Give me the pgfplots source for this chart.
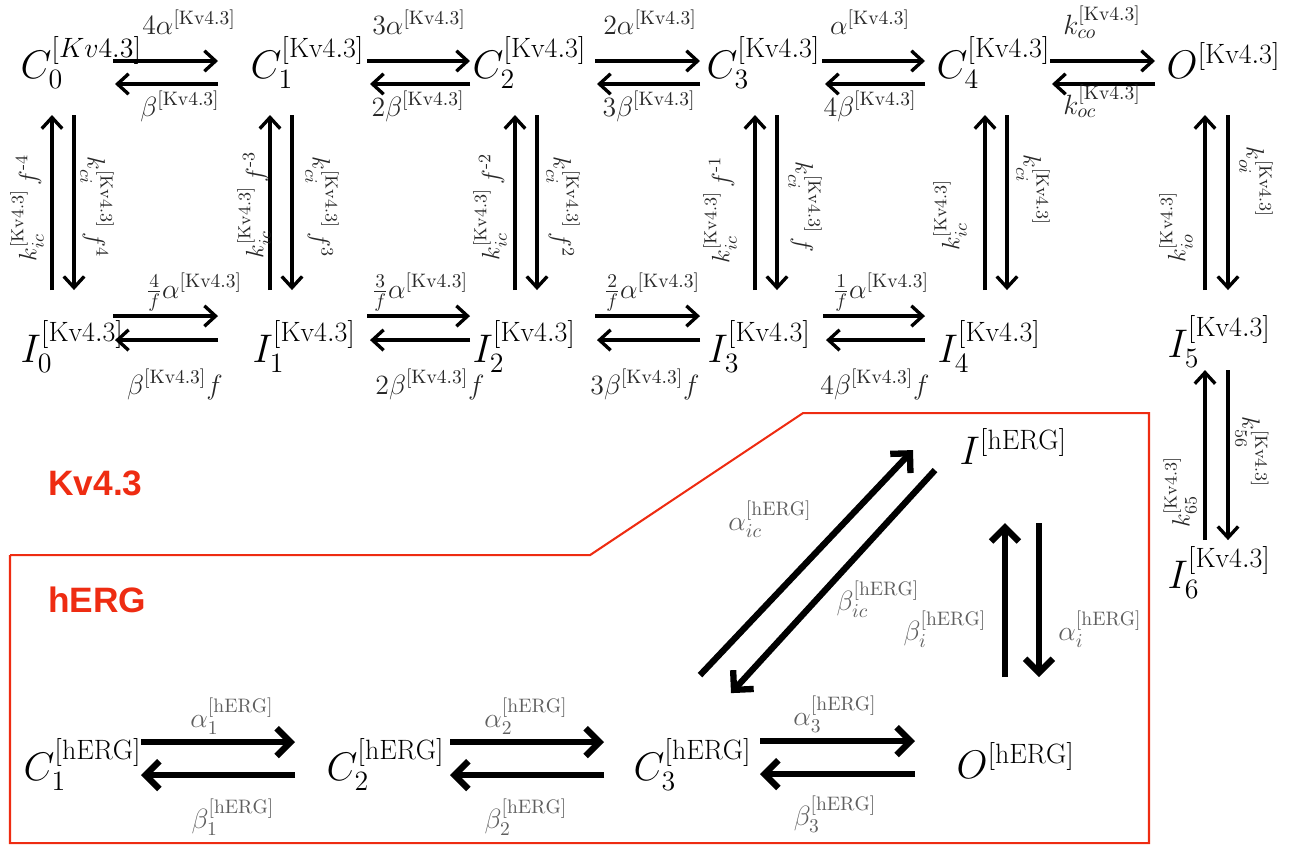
\documentclass[border=0pt]{standalone}
\usepackage{fix-cm}
\usepackage{amsmath}
\usepackage{fontspec}
\newfontfamily\arialfont{Liberation Sans}
\usepackage{pgfplots}
\pgfplotsset{compat=1.18}
\usetikzlibrary{arrows.meta}
\definecolor{redbox}{RGB}{238,44,18}
\definecolor{lbl}{RGB}{40,40,40}
\definecolor{lblh}{RGB}{95,95,95}
\newcommand{\stfont}{\fontsize{21.5}{25}\selectfont}
\newcommand{\kvfont}{\fontsize{15}{18}\selectfont}
\newcommand{\kvrfont}{\fontsize{13.5}{16}\selectfont}
\newcommand{\hfont}{\fontsize{15}{18}\selectfont}
\newcommand{\KV}{[\mathrm{Kv4.3}]}
\newcommand{\HE}{[\mathrm{hERG}]}
\begin{document}
\begin{tikzpicture}[
  kvarr/.style={line width=1.8pt, -{Straight Barb[length=6pt,width=11pt]}},
  harr/.style={line width=3.4pt, -{Straight Barb[length=7.5pt,width=15pt]}},
  st/.style={anchor=base west, font=\stfont},
  kl/.style={anchor=base, font=\kvfont, text=lbl, inner sep=0pt},
  kr/.style={anchor=center, font=\kvrfont, text=lbl, inner sep=0pt},
  hl/.style={anchor=base, font=\hfont, text=lblh, inner sep=0pt}]
\begin{axis}[scale only axis, width=24.5cm, height=15.99cm,
  xmin=0, xmax=1295, ymin=0, ymax=845, y dir=reverse,
  hide axis, clip=false]
\addplot[draw=none] coordinates {(0,0) (1295,845)};
% red box
\addplot[redbox, line width=1.1pt] coordinates {(10,555) (590,555) (803,413) (1149,413) (1149,843) (10,843) (10,555)};
\node[anchor=base west, font=\arialfont\bfseries\fontsize{19}{22}\selectfont, text=redbox, inner sep=0pt] at (axis cs:48,495) {Kv4.3};
\node[anchor=base west, font=\arialfont\bfseries\fontsize{19}{22}\selectfont, text=redbox, inner sep=0pt] at (axis cs:48,612) {hERG};
% ---- Kv4.3 states
\node[st] at (axis cs:14,78) {$C_0^{[Kv4.3]}$};
\node[st] at (axis cs:244,78) {$C_1^{\KV}$};
\node[st] at (axis cs:466,78) {$C_2^{\KV}$};
\node[st] at (axis cs:700,78) {$C_3^{\KV}$};
\node[st] at (axis cs:930,78) {$C_4^{\KV}$};
\node[st] at (axis cs:1160,78) {$O^{\KV}$};
\node[st] at (axis cs:14,362) {$I_0^{\KV}$};
\node[st] at (axis cs:246,362) {$I_1^{\KV}$};
\node[st] at (axis cs:466,362) {$I_2^{\KV}$};
\node[st] at (axis cs:701,362) {$I_3^{\KV}$};
\node[st] at (axis cs:931,362) {$I_4^{\KV}$};
\node[st] at (axis cs:1161,357) {$I_5^{\KV}$};
\node[st] at (axis cs:1161,588) {$I_6^{\KV}$};
% top row arrows
\addplot[kvarr] coordinates {(113,61) (218,61)};
\addplot[kvarr] coordinates {(218,84) (115,84)};
\addplot[kvarr] coordinates {(367,61) (470,61)};
\addplot[kvarr] coordinates {(470,84) (370,84)};
\addplot[kvarr] coordinates {(595,61) (700,61)};
\addplot[kvarr] coordinates {(700,84) (597,84)};
\addplot[kvarr] coordinates {(822,61) (925,61)};
\addplot[kvarr] coordinates {(925,84) (825,84)};
\addplot[kvarr] coordinates {(1050,61) (1155,61)};
\addplot[kvarr] coordinates {(1155,84) (1052,84)};
\node[kl] at (axis cs:189,35) {$4\alpha^{\KV}$};
\node[kl] at (axis cs:419,35) {$3\alpha^{\KV}$};
\node[kl] at (axis cs:650,35) {$2\alpha^{\KV}$};
\node[kl] at (axis cs:870,35) {$\alpha^{\KV}$};
\node[kl] at (axis cs:1102,35) {$k_{co}^{\KV}$};
\node[kl] at (axis cs:180,116) {$\beta^{\KV}$};
\node[kl] at (axis cs:418,116) {$2\beta^{\KV}$};
\node[kl] at (axis cs:649,116) {$3\beta^{\KV}$};
\node[kl] at (axis cs:870,116) {$4\beta^{\KV}$};
\node[kl] at (axis cs:1102,114) {$k_{oc}^{\KV}$};
% second row arrows
\addplot[kvarr] coordinates {(113,316) (218,316)};
\addplot[kvarr] coordinates {(218,340) (115,340)};
\addplot[kvarr] coordinates {(367,316) (470,316)};
\addplot[kvarr] coordinates {(470,340) (370,340)};
\addplot[kvarr] coordinates {(595,316) (700,316)};
\addplot[kvarr] coordinates {(700,340) (597,340)};
\addplot[kvarr] coordinates {(823,316) (925,316)};
\addplot[kvarr] coordinates {(925,340) (826,340)};
\node[kl] at (axis cs:194,298) {$\frac{4}{f}\alpha^{\KV}$};
\node[kl] at (axis cs:420,298) {$\frac{3}{f}\alpha^{\KV}$};
\node[kl] at (axis cs:652,298) {$\frac{2}{f}\alpha^{\KV}$};
\node[kl] at (axis cs:881,298) {$\frac{1}{f}\alpha^{\KV}$};
\node[kl] at (axis cs:175,394) {$\beta^{\KV}f$};
\node[kl] at (axis cs:430,394) {$2\beta^{\KV}f$};
\node[kl] at (axis cs:645,394) {$3\beta^{\KV}f$};
\node[kl] at (axis cs:875,394) {$4\beta^{\KV}f$};
% vertical arrows
\addplot[kvarr] coordinates {(52,290) (52,115)};
\addplot[kvarr] coordinates {(74,115) (74,290)};
\addplot[kvarr] coordinates {(270,290) (270,115)};
\addplot[kvarr] coordinates {(292,115) (292,290)};
\addplot[kvarr] coordinates {(515,290) (515,115)};
\addplot[kvarr] coordinates {(537,115) (537,290)};
\addplot[kvarr] coordinates {(755,290) (755,115)};
\addplot[kvarr] coordinates {(777,115) (777,290)};
\addplot[kvarr] coordinates {(985,290) (985,115)};
\addplot[kvarr] coordinates {(1007,115) (1007,290)};
\addplot[kvarr] coordinates {(1205,290) (1205,115)};
\addplot[kvarr] coordinates {(1228,115) (1228,290)};
\addplot[kvarr] coordinates {(1205,540) (1205,370)};
\addplot[kvarr] coordinates {(1228,370) (1228,540)};
\node[kr, rotate=90] at (axis cs:27,208) {$k_{ic}^{\KV}\,f^{\text{-}4}$};
\node[kr, rotate=-90] at (axis cs:97,207) {$k_{ci}^{\KV}\,f^{4}$};
\node[kr, rotate=90] at (axis cs:254,205) {$k_{ic}^{\KV}\,f^{\text{-}3}$};
\node[kr, rotate=-90] at (axis cs:322,207) {$k_{ci}^{\KV}\,f^{3}$};
\node[kr, rotate=90] at (axis cs:490,207) {$k_{ic}^{\KV}\,f^{\text{-}2}$};
\node[kr, rotate=-90] at (axis cs:563,207) {$k_{ci}^{\KV}\,f^{2}$};
\node[kr, rotate=90] at (axis cs:720,210) {$k_{ic}^{\KV}\,f^{\text{-}1}$};
\node[kr, rotate=-90] at (axis cs:805,207) {$k_{ci}^{\KV}\,f$};
\node[kr, rotate=90] at (axis cs:950,215) {$k_{ic}^{\KV}$};
\node[kr, rotate=-90] at (axis cs:1033,190) {$k_{ci}^{\KV}$};
\node[kr, rotate=90] at (axis cs:1176,227) {$k_{io}^{\KV}$};
\node[kr, rotate=-90] at (axis cs:1256,182) {$k_{oi}^{\KV}$};
\node[kr, rotate=90] at (axis cs:1180,492) {$k_{65}^{\KV}$};
\node[kr, rotate=-90] at (axis cs:1252,452) {$k_{56}^{\KV}$};
% ---- hERG
\node[st] at (axis cs:17,780) {$C_1^{\HE}$};
\node[st] at (axis cs:320,780) {$C_2^{\HE}$};
\node[st] at (axis cs:627,780) {$C_3^{\HE}$};
\node[st] at (axis cs:950,778) {$O^{\HE}$};
\node[st] at (axis cs:953,464) {$I^{\HE}$};
\addplot[harr] coordinates {(141,742) (295,742)};
\addplot[harr] coordinates {(295,775) (141,775)};
\addplot[harr] coordinates {(450,742) (604,742)};
\addplot[harr] coordinates {(604,775) (450,775)};
\addplot[harr] coordinates {(760,741) (915,741)};
\addplot[harr] coordinates {(915,774) (760,774)};
\addplot[harr] coordinates {(700,675) (913,450)};
\addplot[harr] coordinates {(935,470) (731,693)};
\addplot[harr] coordinates {(1005,677) (1005,523)};
\addplot[harr] coordinates {(1039,523) (1039,677)};
\node[hl] at (axis cs:232,727) {$\alpha_1^{\HE}$};
\node[hl] at (axis cs:233,828) {$\beta_1^{\HE}$};
\node[hl] at (axis cs:526,727) {$\alpha_2^{\HE}$};
\node[hl] at (axis cs:526,828) {$\beta_2^{\HE}$};
\node[hl] at (axis cs:835,725) {$\alpha_3^{\HE}$};
\node[hl] at (axis cs:835,825) {$\beta_3^{\HE}$};
\node[hl] at (axis cs:770,530) {$\alpha_{ic}^{\HE}$};
\node[hl] at (axis cs:878,610) {$\beta_{ic}^{\HE}$};
\node[hl] at (axis cs:945,640) {$\beta_{i}^{\HE}$};
\node[hl] at (axis cs:1100,640) {$\alpha_{i}^{\HE}$};
\end{axis}
\end{tikzpicture}
\end{document}
